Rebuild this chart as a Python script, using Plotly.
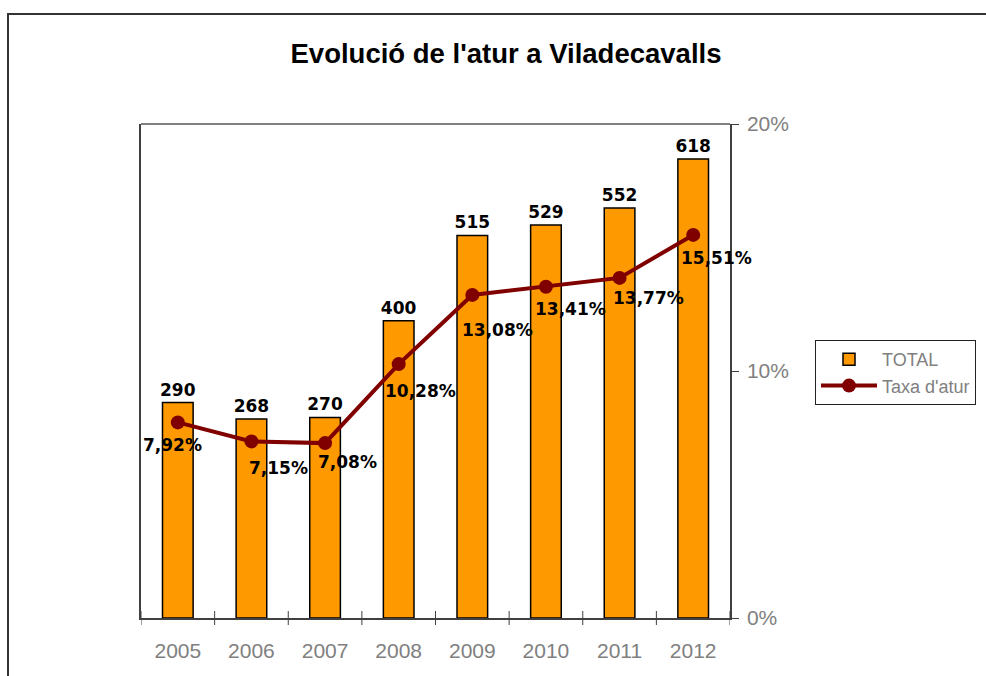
import plotly.graph_objects as go

years = ["2005", "2006", "2007", "2008", "2009", "2010", "2011", "2012"]
total = [290, 268, 270, 400, 515, 529, 552, 618]
taxa = [7.92, 7.15, 7.08, 10.28, 13.08, 13.41, 13.77, 15.51]

# label offsets (style): px right / px down from marker
lbl_dx = [-5, 27, 22, 22, 25, 25, 29, 23]
lbl_dy = [23, 27, 19, 27, 35, 22, 20, 23]

W, H = 986, 676
L, R, T, B = 141, 730, 124, 618
pw, ph = R - L, B - T

def px(x):
    return (x - L) / pw

def py(y):
    return (B - y) / ph

GRAY = "#808080"
AX = "#404040"
LBL = dict(family="DejaVu Sans", size=17, color="black", weight="bold")

fig = go.Figure()
fig.add_trace(go.Bar(
    x=years, y=total, name="TOTAL", width=0.416,
    marker=dict(color="#FF9900", line=dict(color="black", width=1.5)),
    text=[str(v) for v in total], textposition="outside",
    textfont=LBL, cliponaxis=False, constraintext="none", yaxis="y",
))
rate = [v / 100 for v in taxa]
fig.add_trace(go.Scatter(
    x=years, y=rate, name="Taxa d'atur", mode="lines+markers",
    line=dict(color="#800000", width=4),
    marker=dict(color="#800000", size=14),
    yaxis="y2", cliponaxis=False,
))

for i, (v, dx, dy) in enumerate(zip(taxa, lbl_dx, lbl_dy)):
    fig.add_annotation(
        x=i, y=v / 100, xref="x", yref="y2",
        text=f"{v:.2f}".replace(".", ",") + "%",
        showarrow=False, xanchor="center", yanchor="middle",
        xshift=dx, yshift=-dy, font=dict(LBL),
    )

shapes = [
    # outer chart border
    dict(type="rect", xref="paper", yref="paper",
         x0=px(8), y0=py(690), x1=px(1000), y1=py(14),
         line=dict(color="#333333", width=2), layer="below"),
    # top frame line of plot area
    dict(type="line", xref="paper", yref="paper", x0=0, x1=1, y0=1, y1=1,
         line=dict(color=GRAY, width=2)),
]
# crossing category tick marks at the boundaries between years
for i in range(len(years) + 1):
    shapes.append(dict(type="line", xref="x", x0=i - 0.5, x1=i - 0.5,
                       yref="paper", ysizemode="pixel", yanchor=0,
                       y0=-7, y1=7, line=dict(color=AX, width=1)))

fig.update_layout(
    width=W, height=H,
    margin=dict(l=L, r=W - R, t=T, b=H - B, autoexpand=False),
    paper_bgcolor="white", plot_bgcolor="white",
    title=dict(text="<b>Evolució de l'atur a Viladecavalls</b>",
               font=dict(family="Liberation Sans", size=27.5, color="black"),
               x=506 / W, xanchor="center", xref="container",
               y=1 - 53 / H, yanchor="middle", yref="container"),
    showlegend=True,
    legend=dict(x=px(815), y=py(340), xanchor="left", yanchor="top",
                bordercolor="#222222", borderwidth=1, bgcolor="white",
                font=dict(family="Liberation Sans", size=18, color=GRAY),
                itemwidth=56, tracegroupgap=0),
    xaxis=dict(type="category", categoryorder="array", categoryarray=years,
               range=[-0.5, len(years) - 0.5], automargin=False,
               showline=True, linecolor=AX, linewidth=1.5,
               ticks="", showgrid=False,
               tickfont=dict(family="Liberation Sans", size=21, color=GRAY),
               ticklabelstandoff=13),
    yaxis=dict(range=[0, 665], showline=True, linecolor=AX, automargin=False,
               linewidth=2, showticklabels=False, ticks="",
               showgrid=False, zeroline=False),
    yaxis2=dict(range=[0, 0.2], overlaying="y", side="right",
                automargin=False,
                tickmode="array", tickvals=[0, 0.1, 0.2],
                tickformat=".0%", ticks="outside", ticklen=7,
                tickcolor=AX, showline=True, linecolor=AX,
                linewidth=1.5, showgrid=False, zeroline=False,
                tickfont=dict(family="Liberation Sans", size=21, color=GRAY),
                ticklabelstandoff=4),
    shapes=shapes,
    bargap=0.5,
)

fig.write_html("out.html",
               config={"displayModeBar": False},
               post_script="document.body.style.margin='0px';"
                           "document.body.style.overflow='hidden';")
